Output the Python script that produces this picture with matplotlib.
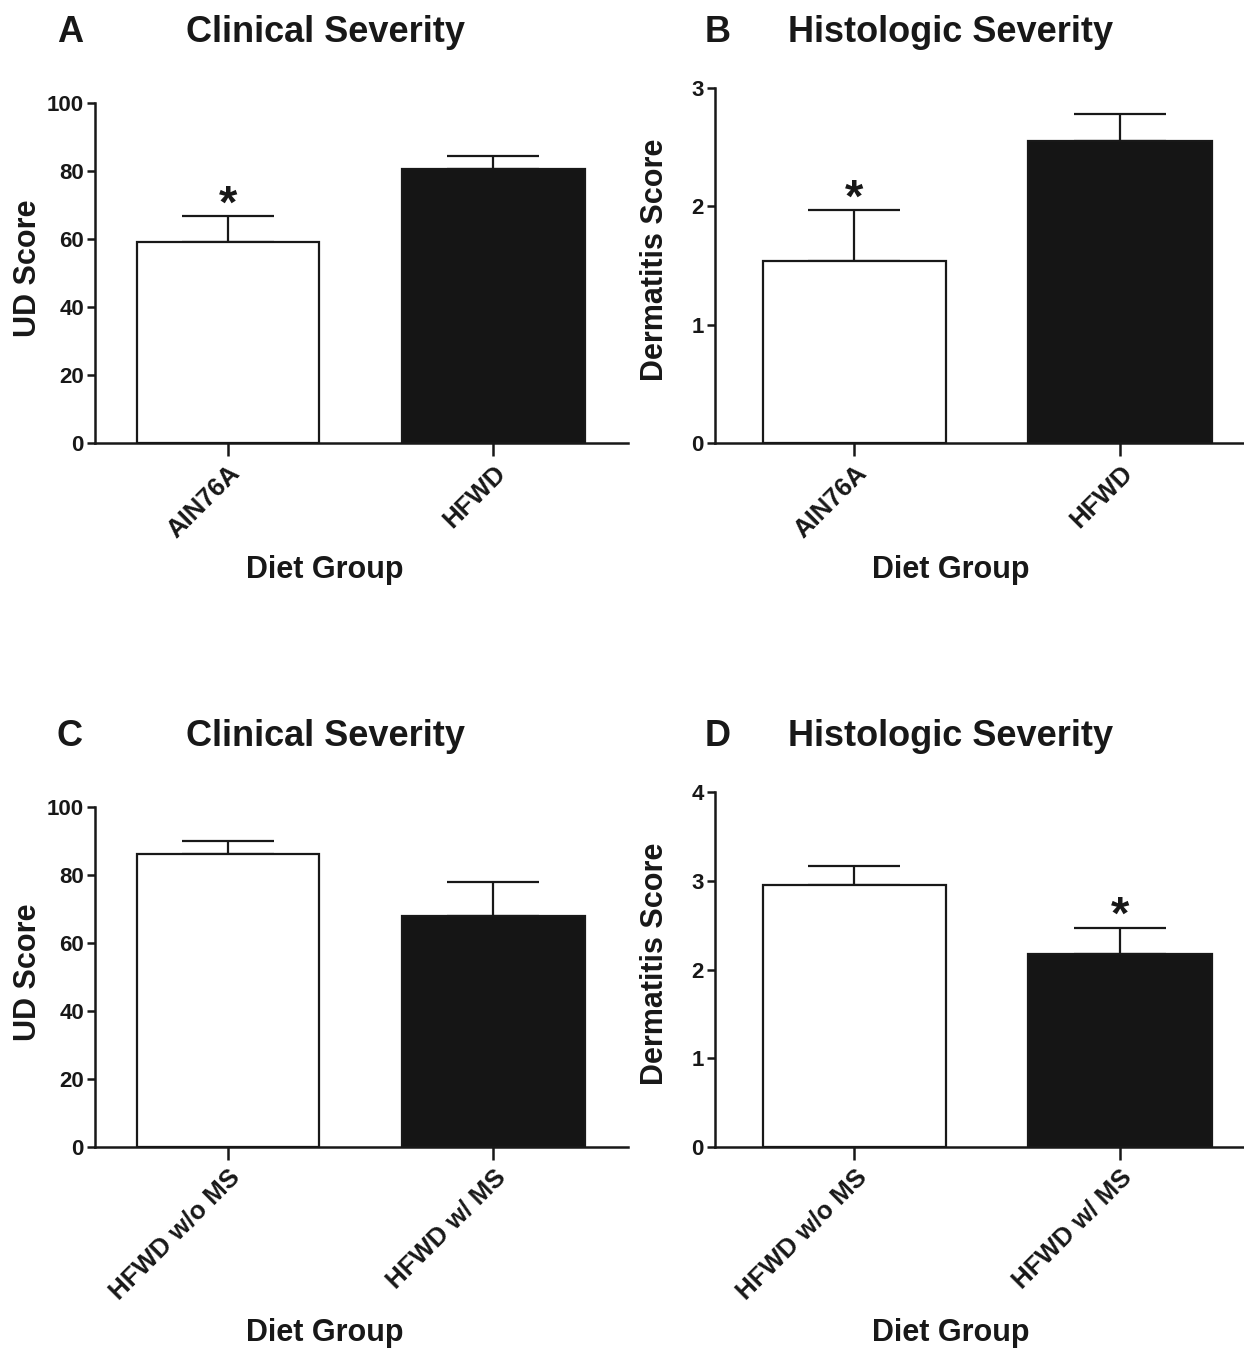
import matplotlib
matplotlib.use("Agg")
import matplotlib.pyplot as plt

plt.rcParams['font.family'] = ['Liberation Sans', 'DejaVu Sans']
plt.rcParams['font.weight'] = 'bold'

# ---- data ----
cats_top = ["AIN76A", "HFWD"]
cats_bottom = ["HFWD w/o MS", "HFWD w/ MS"]

ud_top = [59.1, 80.5]
ud_top_err = [7.6, 4.0]
derm_top = [1.54, 2.55]
derm_top_err = [0.43, 0.23]

ud_bottom = [86.1, 67.9]
ud_bottom_err = [3.8, 10.0]
derm_bottom = [2.95, 2.17]
derm_bottom_err = [0.22, 0.30]

sig_top_ud = [True, False]
sig_top_derm = [True, False]
sig_bottom_ud = [False, False]
sig_bottom_derm = [False, True]

panel_letters = ["A", "B", "C", "D"]
titles = ["Clinical Severity", "Histologic Severity", "Clinical Severity", "Histologic Severity"]
ylabels = ["UD Score", "Dermatitis Score", "UD Score", "Dermatitis Score"]
xlabel = "Diet Group"
yticks_list = [[0, 20, 40, 60, 80, 100], [0, 1, 2, 3], [0, 20, 40, 60, 80, 100], [0, 1, 2, 3, 4]]

W, H = 1244, 1350
fig = plt.figure(figsize=(W / 100, H / 100), dpi=100)

def fx(px):
    return px / W

def fy(py):
    return 1 - py / H

# axes rects (left, bottom, right, top) in pixel terms
rects = [
    (95, 443, 628, 103),
    (715, 443, 1244, 88),
    (95, 1147, 628, 807),
    (715, 1147, 1244, 792),
]
xlims = [(-0.502, 1.509), (-0.525, 1.467), (-0.502, 1.509), (-0.525, 1.467)]
means = [ud_top, derm_top, ud_bottom, derm_bottom]
errs = [ud_top_err, derm_top_err, ud_bottom_err, derm_bottom_err]
sigs = [sig_top_ud, sig_top_derm, sig_bottom_ud, sig_bottom_derm]
cats = [cats_top, cats_top, cats_bottom, cats_bottom]
xlabel_off = [127, 127, 186, 186]
title_y = [33, 33, 737, 737]
letter_x = [70, 718, 70, 718]
title_x = [325, 951, 325, 951]
ylabel_x = [28, 655, 28, 655]

dark = "#151515"
lc = "#181818"

for i in range(4):
    l, b, r, t = rects[i]
    ax = fig.add_axes([fx(l), fy(b), fx(r - l), (b - t) / H])
    x = [0, 1]
    ax.bar(x, means[i], width=0.69, color=["white", dark], edgecolor=lc,
           linewidth=1.6, zorder=2)
    ax.errorbar(x, means[i], yerr=[[0, 0], errs[i]], fmt='none', ecolor=lc,
                elinewidth=1.6, capsize=33, capthick=1.6, zorder=1)
    for j in range(2):
        if sigs[i][j]:
            ax.annotate("*", xy=(x[j], means[i][j] + errs[i][j]), xytext=(0, -1),
                        textcoords="offset points", ha="center", va="baseline",
                        fontsize=34, fontweight="bold", color=lc)
    yt = yticks_list[i]
    ax.set_ylim(0, yt[-1])
    ax.set_yticks(yt)
    ax.set_xlim(*xlims[i])
    ax.set_xticks(x)
    ax.set_xticklabels(cats[i], rotation=45, ha="right", rotation_mode="anchor",
                       fontsize=18.5, fontweight="bold", color=lc)
    ax.tick_params(axis="y", length=6, width=1.8, pad=2, labelsize=16, color=lc,
                   labelcolor=lc)
    ax.tick_params(axis="x", length=9, width=1.8, pad=4, color=lc)
    for lab in ax.get_yticklabels():
        lab.set_fontweight("bold")
    for s in ["top", "right"]:
        ax.spines[s].set_visible(False)
    for s in ["left", "bottom"]:
        ax.spines[s].set_linewidth(1.8)
        ax.spines[s].set_color(lc)
    ax.set_ylabel(ylabels[i], fontsize=22, fontweight="bold", color=lc)
    ax.yaxis.set_label_coords((ylabel_x[i] - l) / (r - l), 0.515)
    ax.yaxis.label.set_va("center")
    ax.set_xlabel(xlabel, fontsize=22, fontweight="bold", color=lc)
    ax.xaxis.set_label_coords((title_x[i] - l) / (r - l), -xlabel_off[i] / (b - t))
    ax.xaxis.label.set_va("center")
    ax.set_facecolor("none")

    fig.text(fx(letter_x[i]), fy(title_y[i]), panel_letters[i], fontsize=26,
             fontweight="bold", ha="center", va="center", color=lc)
    fig.text(fx(title_x[i]), fy(title_y[i]), titles[i], fontsize=26,
             fontweight="bold", ha="center", va="center", color=lc)

fig.savefig("out.png", dpi=100)
